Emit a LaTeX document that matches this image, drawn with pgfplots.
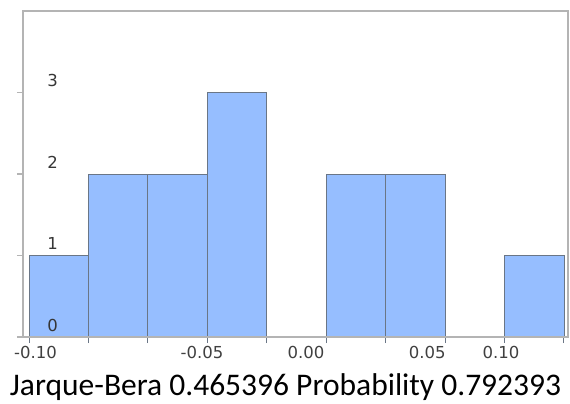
\documentclass[border=0pt]{standalone}
\usepackage{pgfplots}
\pgfplotsset{compat=1.18}
\usepackage{fontspec}
\setmainfont{Carlito}
\newfontfamily\tickfont{DejaVu Sans}
\definecolor{barfill}{HTML}{96BEFF}
\definecolor{baredge}{HTML}{6A7686}
\definecolor{axgray}{HTML}{B4B4B4}
\definecolor{ticktext}{HTML}{404040}
\begin{document}
\begin{tikzpicture}
\begin{axis}[
  name=ax,
  scale only axis,
  width=545bp, height=326bp,
  xmin=-0.10253, xmax=0.12670,
  ymin=0, ymax=4,
  axis on top,
  axis line style={draw=axgray, line width=1.8bp},
  tick align=outside,
  major tick length=6bp,
  xtick pos=bottom, ytick pos=left,
  xtick={-0.100,-0.075,-0.050,-0.025,0.000,0.025,0.050,0.075,0.100,0.125},
  xticklabels={},
  x tick style={draw=baredge, line width=1bp},
  y tick style={draw=axgray, line width=1.2bp},
  extra x ticks={-0.09727,-0.02725,0.0165,0.0675,0.0985},
  extra x tick labels={-0.10,-0.05,0.00,0.05,0.10},
  extra x tick style={major tick length=0pt},
  xticklabel style={font=\tickfont\fontsize{16.5bp}{18bp}\selectfont, text=ticktext, anchor=center, yshift=-15bp},
  ytick={0,1,2,3},
  yticklabels={0,1,2,3},
  yticklabel style={font=\tickfont\fontsize{16.5bp}{18bp}\selectfont, text=ticktext!85!black, anchor=center, xshift=35.5bp, yshift=12bp},
  clip=false,
]
\addplot[ybar interval, fill=barfill, draw=baredge, line width=0.9bp] coordinates {
  (-0.100,1) (-0.075,2) (-0.050,2) (-0.025,3) (0.000,0) (0.025,2) (0.050,2) (0.075,0) (0.100,1) (0.125,1)
};
\end{axis}
\node[anchor=base, font=\fontsize{31.5bp}{36bp}\selectfont] at ([xshift=-10bp, yshift=-58bp]ax.south) {Jarque-Bera 0.465396 Probability 0.792393};
\path (ax.south west) ++(-23bp,-64bp);
\path (ax.north east) ++(2bp,11bp);
\end{tikzpicture}
\end{document}
